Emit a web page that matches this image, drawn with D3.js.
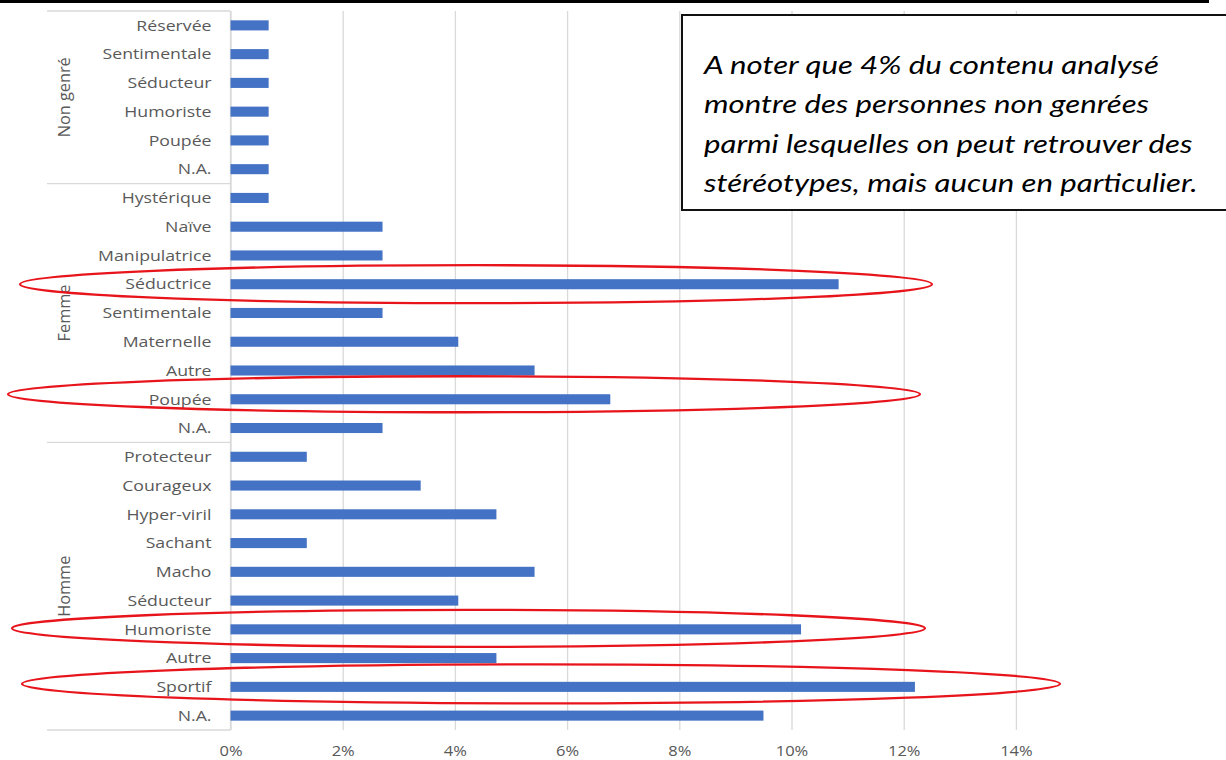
<!DOCTYPE html>
<html>
<head>
<meta charset="utf-8">
<script src="https://cdn.jsdelivr.net/npm/d3@7"></script>
<style>
  html, body { margin: 0; padding: 0; background: #fff; overflow: hidden; }
  svg { display: block; }
</style>
</head>
<body>
<svg id="chart" width="1226" height="760"></svg>
<script>
// ---------- DATA ----------
const groups = ["Non genré", "Femme", "Homme"];
const groupCategories = [
  ["Réservée", "Sentimentale", "Séducteur", "Humoriste", "Poupée", "N.A."],
  ["Hystérique", "Naïve", "Manipulatrice", "Séductrice", "Sentimentale", "Maternelle", "Autre", "Poupée", "N.A."],
  ["Protecteur", "Courageux", "Hyper-viril", "Sachant", "Macho", "Séducteur", "Humoriste", "Autre", "Sportif", "N.A."]
];
const groupValues = [
  [0.68, 0.68, 0.68, 0.68, 0.68, 0.68],
  [0.68, 2.71, 2.71, 10.84, 2.71, 4.06, 5.42, 6.77, 2.71],
  [1.36, 3.39, 4.74, 1.36, 5.42, 4.06, 10.17, 4.74, 12.2, 9.5]
];
const xTicks = [0, 2, 4, 6, 8, 10, 12, 14];
const tickLabels = ["0%", "2%", "4%", "6%", "8%", "10%", "12%", "14%"];
const highlighted = [["Femme", "Séductrice"], ["Femme", "Poupée"], ["Homme", "Humoriste"], ["Homme", "Sportif"]];
const noteLines = [
  "A noter que 4% du contenu analysé",
  "montre des personnes non genrées",
  "parmi lesquelles on peut retrouver des",
  "stéréotypes, mais aucun en particulier."
];

// ---------- BUILD ROWS ----------
const rows = [];
groups.forEach((g, gi) => {
  groupCategories[gi].forEach((c, ci) => {
    rows.push({ key: g + "|" + c, group: g, cat: c, value: groupValues[gi][ci] });
  });
});

// ---------- LAYOUT ----------
const svg = d3.select("#chart");
const W = 1226, H = 760;
const plotTop = 11, plotBottom = 730, plotLeft = 230.5;
const labelColor = "#595959";
const gridColor = "#d9d9d9";
const barColor = "#4472c4";
const labelFont = "'Open Sans', sans-serif";
const stretch = 1.18; // the reference text is horizontally widened

const x = d3.scaleLinear().domain([0, 14]).range([plotLeft, plotLeft + 14 * 56.1]);
const y = d3.scaleBand()
  .domain(rows.map(d => d.key))
  .range([plotTop, plotBottom])
  .paddingInner(0.65)
  .paddingOuter(0.325);
const step = y.step();
const rowCenter = k => y(k) + y.bandwidth() / 2;

svg.append("rect").attr("width", W).attr("height", H).attr("fill", "#fff");

// gridlines via axis
const gridAxis = d3.axisBottom(x).tickValues(xTicks).tickSize(-(plotBottom - plotTop)).tickFormat("");
const gg = svg.append("g").attr("transform", `translate(0,${plotBottom})`).call(gridAxis);
gg.select(".domain").remove();
gg.selectAll(".tick line").attr("stroke", gridColor).attr("stroke-width", 1.3);

// tick labels
const labAxis = d3.axisBottom(x).tickValues(xTicks).tickSize(0).tickPadding(0)
  .tickFormat((d, i) => tickLabels[i]);
const lg = svg.append("g").attr("transform", `translate(0,${plotBottom + 15})`).call(labAxis);
lg.select(".domain").remove();
lg.selectAll("text")
  .attr("fill", labelColor)
  .attr("font-family", labelFont)
  .attr("font-size", 15)
  .attr("dy", "0.71em")
  .attr("x", 0)
  .attr("transform", "scale(1.1,1)");

// category axis (vertical line at 0)
svg.append("line")
  .attr("x1", x(0)).attr("x2", x(0))
  .attr("y1", plotTop).attr("y2", plotBottom)
  .attr("stroke", gridColor).attr("stroke-width", 1.3);

// group separators
const sepLeft = 47;
let acc = 0;
const boundaries = [plotTop];
groups.forEach((g, gi) => {
  acc += groupCategories[gi].length;
  boundaries.push(plotTop + acc * step);
});
svg.selectAll("line.sep").data(boundaries).join("line")
  .attr("class", "sep")
  .attr("x1", sepLeft).attr("x2", x(0))
  .attr("y1", d => d).attr("y2", d => d)
  .attr("stroke", gridColor).attr("stroke-width", 1.3);

// category labels
svg.selectAll("text.cat").data(rows).join("text")
  .attr("class", "cat")
  .attr("transform", d => `translate(${x(0) - 19},${rowCenter(d.key)}) scale(${stretch},1)`)
  .attr("dy", "0.35em")
  .attr("text-anchor", "end")
  .attr("fill", labelColor)
  .attr("font-family", labelFont)
  .attr("font-size", 15)
  .text(d => d.cat);

// group labels (rotated)
groups.forEach((g, gi) => {
  const cy = (boundaries[gi] + boundaries[gi + 1]) / 2;
  svg.append("text")
    .attr("transform", `translate(64,${cy}) rotate(-90)`)
    .attr("dy", "0.35em")
    .attr("text-anchor", "middle")
    .attr("fill", labelColor)
    .attr("font-family", labelFont)
    .attr("font-size", 16.3)
    .text(g);
});

// bars
svg.selectAll("rect.bar").data(rows).join("rect")
  .attr("class", "bar")
  .attr("x", x(0))
  .attr("y", d => y(d.key))
  .attr("width", d => x(d.value) - x(0))
  .attr("height", y.bandwidth())
  .attr("fill", barColor);

// top black rule
svg.append("rect").attr("x", 0).attr("y", 0).attr("width", 1209).attr("height", 3).attr("fill", "#000");

// note box
const box = svg.append("g");
box.append("rect")
  .attr("x", 682).attr("y", 15).attr("width", 600).attr("height", 195)
  .attr("fill", "#fff").attr("stroke", "#111").attr("stroke-width", 2);
box.selectAll("text").data(noteLines).join("text")
  .attr("transform", (d, i) => `translate(704,${74 + i * 39.3}) scale(1.2,1)`)
  .attr("fill", "#000")
  .attr("font-family", "Lato, sans-serif")
  .attr("font-style", "italic")
  .attr("font-size", 26)
  .text(d => d);

// highlight ellipses (annotation shapes, anchored on the row of each highlighted category)
const ellipseShapes = [
  { left: 20, right: 932, dy: 0, ry: 19 },
  { left: 8, right: 920, dy: -5, ry: 18 },
  { left: 12, right: 925, dy: -1, ry: 18.5 },
  { left: 22, right: 1060, dy: -3, ry: 19.5 }
];
highlighted.forEach((h, i) => {
  const e = ellipseShapes[i];
  svg.append("ellipse")
    .attr("cx", (e.left + e.right) / 2)
    .attr("cy", rowCenter(h[0] + "|" + h[1]) + e.dy)
    .attr("rx", (e.right - e.left) / 2)
    .attr("ry", e.ry)
    .attr("fill", "none")
    .attr("stroke", "#e8141b")
    .attr("stroke-width", 2.3);
});
</script>
</body>
</html>
